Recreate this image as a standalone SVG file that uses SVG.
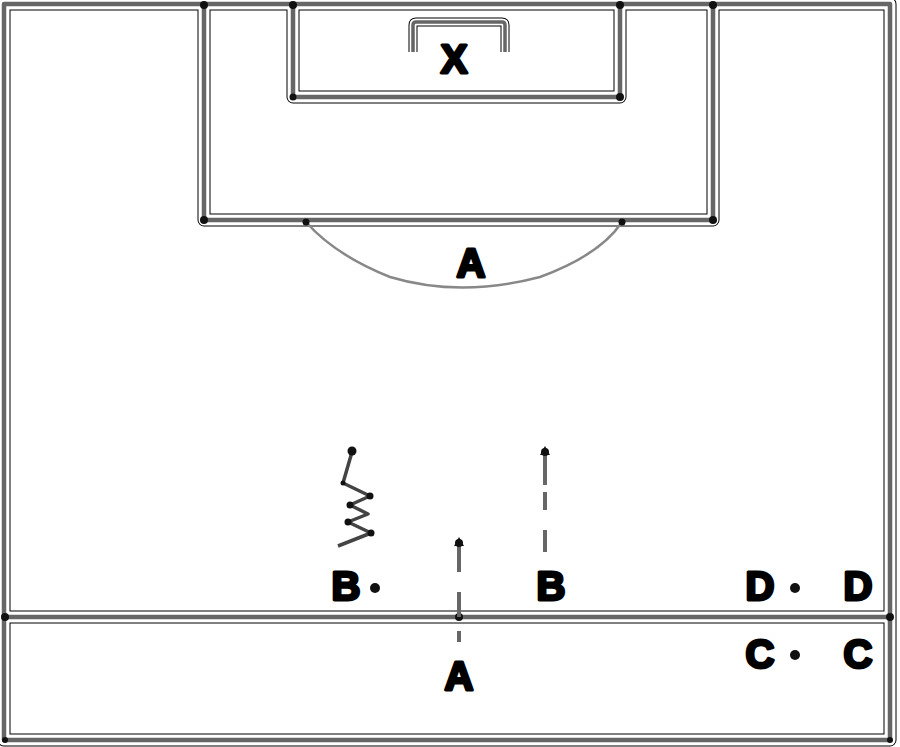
<svg xmlns="http://www.w3.org/2000/svg" xmlns:xlink="http://www.w3.org/1999/xlink" width="900" height="747" viewBox="0 0 900 747">
<style>
.o{fill:none;stroke:#000;stroke-width:13;stroke-linejoin:round}
.w{fill:none;stroke:#fff;stroke-width:11;stroke-linejoin:round}
.c{fill:none;stroke:#666;stroke-width:4.5;stroke-linejoin:round}
.go{fill:none;stroke:#000;stroke-width:9;stroke-linejoin:round}
.gw{fill:none;stroke:#fff;stroke-width:7;stroke-linejoin:round}
.arc{fill:none;stroke:#888;stroke-width:2.5}
.zz{fill:none;stroke:#444;stroke-width:3.5;stroke-linejoin:round}
.ar{fill:none;stroke:#666;stroke-width:4}
.d{fill:#111}
.t{font-family:"Liberation Sans","DejaVu Sans",Arial,sans-serif;font-weight:bold;font-size:40px;fill:#000;stroke:#000;stroke-width:3;stroke-linejoin:round;text-anchor:middle}
</style>
<defs>
<path id="field" d="M4,4 H890 V740 H4 Z M4,617 H890 M204,4 V220 H713 V4 M293,4 V97 H620 V4"/>
<path id="goal" d="M413,52 V25 Q413,22 416,22 H502 Q505,22 505,25 V52"/>
</defs>
<rect width="900" height="747" fill="#fff"/>
<g id="pitch">
<use xlink:href="#field" class="o"/>
<use xlink:href="#field" class="w"/>
<use xlink:href="#field" class="c"/>
<use xlink:href="#goal" class="go"/>
<use xlink:href="#goal" class="gw"/>
<use xlink:href="#goal" class="c" style="stroke-width:3.5"/>
<path class="arc" d="M306,222 Q335,255 390,277 Q460,298 540,277 Q600,255 622,222"/>
<g class="d">
<circle cx="204" cy="5" r="4"/><circle cx="293" cy="5" r="4"/><circle cx="620" cy="5" r="4"/><circle cx="713" cy="5" r="4"/>
<circle cx="293" cy="97" r="3.5"/><circle cx="620" cy="97" r="4"/>
<circle cx="204" cy="220" r="4"/><circle cx="306" cy="222" r="3.5"/><circle cx="622" cy="222" r="3.5"/><circle cx="713" cy="220" r="4"/>
<circle cx="5" cy="617" r="4"/><circle cx="890" cy="617" r="4"/><circle cx="459" cy="617" r="4"/>
<circle cx="5" cy="740" r="3"/><circle cx="890" cy="740" r="3"/>
</g>
</g>
<g id="zigzag">
<path class="zz" d="M352,452 L343,483 L370,496 L350,505 L368,514 L348,522 L371,533 L338,546"/>
<g class="d"><circle cx="352" cy="451" r="4.5"/><circle cx="343" cy="483" r="2.5"/><circle cx="370" cy="496" r="3.5"/><circle cx="350" cy="505" r="3.5"/><circle cx="348" cy="522" r="3.5"/><circle cx="371" cy="533" r="3.5"/></g>
</g>
<g id="arrows">
<path class="ar" d="M545,455 V485 M545,492 V510 M545,530 V552"/>
<path class="d" d="M545,446 L550,455 L540,455 Z"/>
<circle class="d" cx="545" cy="452" r="4"/>
<path class="ar" d="M459,545 V572 M459,592 V617 M459,631 V642"/>
<path class="d" d="M459,537 L464,546 L454,546 Z"/>
<circle class="d" cx="459" cy="543" r="4"/>
</g>
<g id="labels">
<text class="t" x="454" y="73">X</text>
<text class="t" x="471" y="277">A</text>
<text class="t" x="346" y="600">B</text>
<circle class="d" cx="375" cy="588" r="5"/>
<text class="t" x="551" y="600">B</text>
<text class="t" x="459" y="690">A</text>
<text class="t" x="760" y="600">D</text>
<circle class="d" cx="795" cy="588" r="5"/>
<text class="t" x="858" y="600">D</text>
<text class="t" x="760" y="668">C</text>
<circle class="d" cx="795" cy="655" r="5"/>
<text class="t" x="858" y="668">C</text>
</g>
</svg>
